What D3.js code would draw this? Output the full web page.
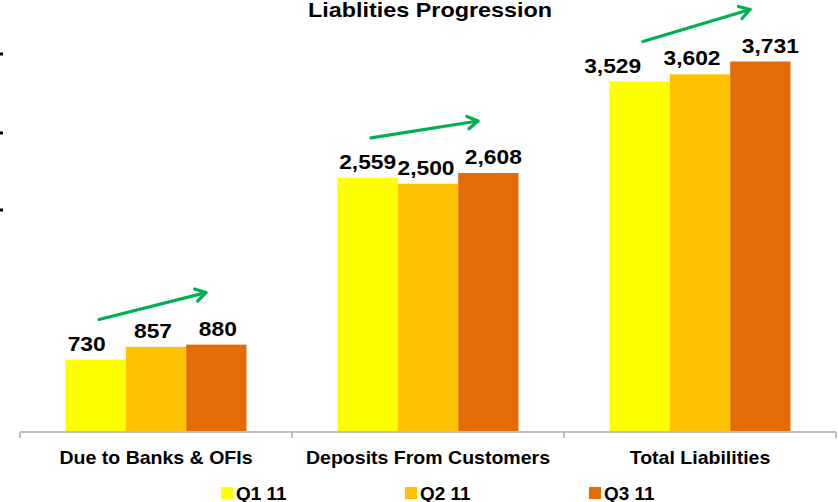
<!DOCTYPE html>
<html><head><meta charset="utf-8">
<script src="https://cdn.jsdelivr.net/npm/d3@7"></script>
<style>
html,body{margin:0;padding:0;background:#fff;}
svg{display:block;font-family:"Liberation Sans",Arial,sans-serif;}
</style></head>
<body>
<svg id="chart" width="838" height="502"></svg>
<script>
const title = "Liablities Progression";
const categories = ["Due to Banks & OFIs", "Deposits From Customers", "Total Liabilities"];
const seriesNames = ["Q1 11", "Q2 11", "Q3 11"];
const q1 = [730, 2559, 3529];
const q2 = [857, 2500, 3602];
const q3 = [880, 2608, 3731];
const colors = ["#ffff00", "#ffc000", "#e36c09"];
const series = [q1, q2, q3];

// layout: manual nudges of value labels as in the original slide
const LABEL_DX = [[-9, 0, -27], [-3, -2, -8], [1.5, 5, 10]];

const svg = d3.select("#chart");
const x0 = d3.scaleBand().domain(categories).range([20, 836]).paddingInner(0).paddingOuter(0);
const inner = x0.bandwidth() * 181 / 272;
const x1 = d3.scaleBand().domain(seriesNames).range([0, inner]).padding(0);
const y = d3.scaleLinear().domain([0, 4000]).range([432, 34.8]);
const off = (x0.bandwidth() - inner) / 2;

function sText(sel, x, yy, txt, size, sx, anchor) {
  return sel.append("text")
    .attr("transform", `translate(${x},${yy}) scale(${sx},1)`)
    .attr("text-anchor", anchor || "middle").attr("font-size", size).attr("font-weight", "bold")
    .text(txt);
}

// left stray ticks
[54, 133, 210].forEach(v => svg.append("rect").attr("x", 0).attr("y", v - 1.5).attr("width", 3).attr("height", 3).attr("fill", "#000"));

// title
sText(svg, 430, 17, title, 19.5, 1.2);

// bars
const groups = svg.selectAll("g.grp").data(categories).join("g")
  .attr("transform", c => `translate(${x0(c) + off},0)`);
groups.each(function(c, i) {
  const g = d3.select(this);
  seriesNames.forEach((s, si) => {
    const v = series[si][i];
    g.append("rect")
      .attr("x", x1(s)).attr("width", x1.bandwidth())
      .attr("y", y(v)).attr("height", y(0) - y(v))
      .attr("fill", colors[si]);
    sText(g, x1(s) + x1.bandwidth() / 2 + LABEL_DX[si][i], y(v) - 9, d3.format(",")(v), 20, 1.14);
  });
});

// axis
const axis = svg.append("g").attr("transform", "translate(0,432)")
  .call(d3.axisBottom(x0).tickSize(0).tickFormat(""));
axis.select(".domain").remove();
axis.append("line").attr("x1", 20).attr("x2", 836).attr("stroke", "#bfbfbf").attr("stroke-width", 2);
const tickPos = categories.map(c => x0(c)).concat([x0.range()[1]]);
tickPos.forEach(p => axis.append("line").attr("x1", p).attr("x2", p).attr("y1", 0).attr("y2", 6).attr("stroke", "#bfbfbf").attr("stroke-width", 2));
categories.forEach(c => sText(svg, x0(c) + x0.bandwidth() / 2, 464, c, 18, 1.085));

// arrows
categories.forEach((c, i) => {
  const bx = x0(c);
  const sx = bx + 79, ex = bx + 186;
  const sy = y(q1[i]) - 40, ey = y(q3[i]) - 52;
  svg.append("line").attr("x1", sx).attr("y1", sy).attr("x2", ex).attr("y2", ey)
    .attr("stroke", "#00b050").attr("stroke-width", 3.2).attr("stroke-linecap", "round");
  const ang = Math.atan2(ey - sy, ex - sx);
  const L = 12, a = 0.55;
  const p1 = [ex - L * Math.cos(ang - a), ey - L * Math.sin(ang - a)];
  const p2 = [ex - L * Math.cos(ang + a), ey - L * Math.sin(ang + a)];
  svg.append("path").attr("d", `M${p1[0]},${p1[1]}L${ex},${ey}L${p2[0]},${p2[1]}`)
    .attr("fill", "none").attr("stroke", "#00b050").attr("stroke-width", 3.2)
    .attr("stroke-linecap", "round").attr("stroke-linejoin", "round");
});

// legend
const legX = [221, 405, 589];
seriesNames.forEach((s, i) => {
  svg.append("rect").attr("x", legX[i]).attr("y", 487).attr("width", 12).attr("height", 12).attr("fill", colors[i]);
  sText(svg, legX[i] + 15, 499.5, s, 18, 1.05, "start");
});
</script>
</body></html>
